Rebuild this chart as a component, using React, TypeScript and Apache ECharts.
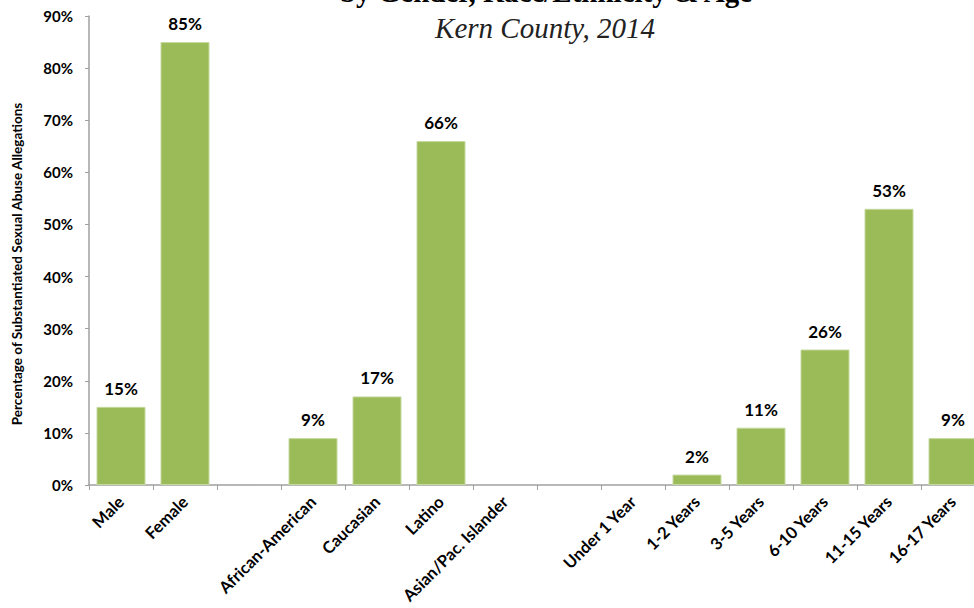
import React, { useEffect, useRef } from "react";
import * as echarts from "echarts";

const categories = [
  "Male", "Female", "", "African-American", "Caucasian", "Latino", "Asian/Pac. Islander",
  "", "Under 1 Year", "1-2 Years", "3-5 Years", "6-10 Years", "11-15 Years", "16-17 Years",
];
const values: (number | null)[] = [15, 85, null, 9, 17, 66, null, null, null, 2, 11, 26, 53, 9];
const yTicks = [0, 10, 20, 30, 40, 50, 60, 70, 80, 90];
const titleText = "by Gender, Race/Ethnicity & Age";
const subtitleText = "Kern County, 2014";
const yAxisName = "Percentage of Substantiated Sexual Abuse Allegations";

export default function App() {
  const ref = useRef<HTMLDivElement>(null);
  useEffect(() => {
    if (!ref.current) return;
    const chart = echarts.init(ref.current, null, { renderer: "svg" });
    const font = "Lato, 'Open Sans', sans-serif";
    chart.setOption({
      animation: false,
      backgroundColor: "#ffffff",
      grid: { left: 89, right: 5, top: 16, height: 469, containLabel: false },
      graphic: [
        {
          type: "text",
          x: 546,
          y: -8,
          style: {
            text: titleText,
            font: "bold 29px 'Liberation Serif', 'Times New Roman', serif",
            fill: "#000",
            align: "center",
            verticalAlign: "middle",
          },
        },
        {
          type: "text",
          x: 545,
          y: 28,
          style: {
            text: subtitleText,
            font: "italic 29px 'Liberation Serif', 'Times New Roman', serif",
            fill: "#222",
            align: "center",
            verticalAlign: "middle",
          },
        },
        {
          type: "text",
          x: 17,
          y: 264,
          rotation: Math.PI / 2,
          style: {
            text: yAxisName,
            font: `bold 13.5px ${font}`,
            fill: "#000",
            align: "center",
            verticalAlign: "middle",
          },
        },
      ],
      xAxis: {
        type: "category",
        data: categories,
        axisLine: { lineStyle: { color: "#a0a0a0", width: 1.5 } },
        axisTick: { show: true, length: 5, alignWithLabel: false, lineStyle: { color: "#a0a0a0" } },
        axisLabel: {
          rotate: 45,
          interval: 0,
          margin: 14,
          fontFamily: font,
          fontWeight: "bold",
          fontSize: 16.5,
          color: "#000",
        },
      },
      yAxis: {
        type: "value",
        min: yTicks[0],
        max: yTicks[yTicks.length - 1],
        interval: 10,
        splitLine: { show: false },
        axisLine: { show: true, lineStyle: { color: "#a0a0a0", width: 1.5 } },
        axisTick: { show: true, length: 4, lineStyle: { color: "#a0a0a0" } },
        axisLabel: {
          formatter: "{value}%",
          margin: 16,
          fontFamily: font,
          fontWeight: "bold",
          fontSize: 15,
          color: "#000",
        },
      },
      series: [
        {
          type: "bar",
          data: values.map((v) => (v === null ? "-" : v)),
          barWidth: 49,
          itemStyle: { color: "#9bbb59", borderColor: "#c6d9a0", borderWidth: 1 },
          label: {
            show: true,
            position: "top",
            distance: 10,
            formatter: "{c}%",
            fontFamily: font,
            fontWeight: "bold",
            fontSize: 17,
            color: "#000",
          },
        },
      ],
    });
    return () => chart.dispose();
  }, []);
  return (
    <div style={{ width: 974, height: 608, position: "absolute", left: 0, top: 0, overflow: "hidden", background: "#fff" }}>
      <div ref={ref} style={{ width: 990, height: 608 }} />
    </div>
  );
}
